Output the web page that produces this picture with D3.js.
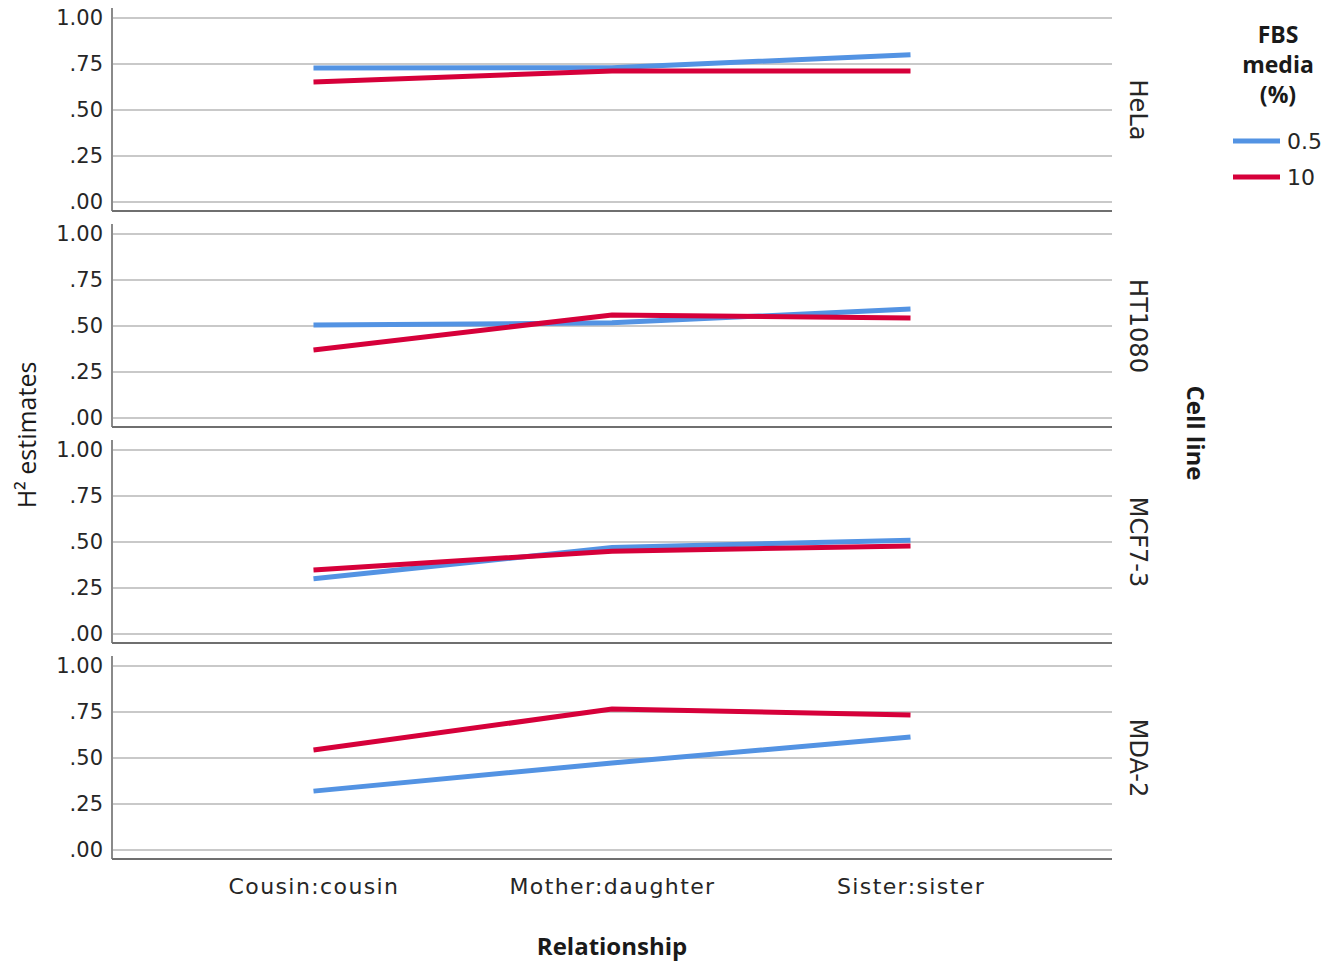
<!DOCTYPE html>
<html>
<head>
<meta charset="utf-8">
<script src="https://cdn.jsdelivr.net/npm/d3@7"></script>
<style>
  html, body { margin: 0; padding: 0; background: #fff; }
  svg { display: block; }
</style>
</head>
<body>
<svg id="chart" width="1329" height="963"></svg>
<script>
// Relationship categories on the x axis
const relationships = ["Cousin:cousin", "Mother:daughter", "Sister:sister"];
// Cell line panels, top to bottom
const cellLines = ["HeLa", "HT1080", "MCF7-3", "MDA-2"];
// FBS media levels (%)
const fbsLevels = ["0.5", "10"];
const yTicks = [0, 0.25, 0.5, 0.75, 1.0];

// H² estimates per cell line, one array per FBS level (order follows relationships)
const helaLow = [0.728, 0.730, 0.800];
const helaHigh = [0.652, 0.712, 0.712];
const ht1080Low = [0.505, 0.517, 0.592];
const ht1080High = [0.370, 0.560, 0.543];
const mcf7Low = [0.300, 0.470, 0.510];
const mcf7High = [0.348, 0.450, 0.478];
const mdaLow = [0.320, 0.473, 0.614];
const mdaHigh = [0.543, 0.766, 0.734];

const panels = [
  { name: cellLines[0], series: [helaLow, helaHigh] },
  { name: cellLines[1], series: [ht1080Low, ht1080High] },
  { name: cellLines[2], series: [mcf7Low, mcf7High] },
  { name: cellLines[3], series: [mdaLow, mdaHigh] }
];

const colors = d3.scaleOrdinal().domain(fbsLevels).range(["#5393E3", "#D6003A"]);

const svg = d3.select("#chart");
const left = 112, right = 1112;
const firstTop = 18, panelStep = 216, plotH = 184, axisGap = 9;
const tickFont = "'DejaVu Sans', Verdana, sans-serif";
const boldFont = "'Open Sans', 'DejaVu Sans', sans-serif";

const x = d3.scalePoint().domain(relationships).range([left, right]).padding(0.675);

panels.forEach((p, i) => {
  const top = firstTop + i * panelStep;
  const y = d3.scaleLinear().domain([0, 1]).range([top + plotH, top]);
  const g = svg.append("g");

  // horizontal grid lines
  g.selectAll("line.grid").data(yTicks).join("line")
    .attr("class", "grid")
    .attr("x1", left).attr("x2", right)
    .attr("y1", d => y(d)).attr("y2", d => y(d))
    .attr("stroke", "#c9c9c9").attr("stroke-width", 2);

  // y axis labels
  const yAxis = d3.axisLeft(y).tickValues(yTicks).tickSize(0).tickPadding(9)
    .tickFormat(d => d === 1 ? "1.00" : d3.format(".2f")(d).replace(/^0/, ""));
  const ag = g.append("g").attr("transform", `translate(${left},0)`).call(yAxis);
  ag.select(".domain").remove();
  ag.selectAll("text")
    .attr("font-family", tickFont).attr("font-size", 21).attr("fill", "#262626");

  // axis frame: left and bottom lines
  g.append("line")
    .attr("x1", left).attr("x2", left)
    .attr("y1", top - 10).attr("y2", top + plotH + axisGap)
    .attr("stroke", "#8a8a8a").attr("stroke-width", 2);
  g.append("line")
    .attr("x1", left).attr("x2", right)
    .attr("y1", top + plotH + axisGap).attr("y2", top + plotH + axisGap)
    .attr("stroke", "#6f6f6f").attr("stroke-width", 2);

  // series lines
  const line = d3.line().x((d, j) => x(relationships[j])).y(d => y(d));
  g.selectAll("path.series").data(p.series).join("path")
    .attr("class", "series")
    .attr("d", line)
    .attr("fill", "none")
    .attr("stroke", (d, k) => colors(fbsLevels[k]))
    .attr("stroke-width", 5);

  // panel label on the right
  const cy = top + plotH / 2;
  g.append("text")
    .attr("transform", `translate(1130,${cy}) rotate(90)`)
    .attr("text-anchor", "middle")
    .attr("font-family", tickFont).attr("font-size", 24).attr("fill", "#262626")
    .text(p.name);
});

// x axis category labels
const xAxisY = firstTop + 3 * panelStep + plotH + axisGap;
const xg = svg.append("g").attr("transform", `translate(0,${xAxisY})`)
  .call(d3.axisBottom(x).tickSize(0).tickPadding(19));
xg.select(".domain").remove();
xg.selectAll("text")
  .attr("font-family", tickFont).attr("font-size", 22).attr("fill", "#262626")
  .attr("letter-spacing", "1.4px");

// axis titles
svg.append("text")
  .attr("x", (left + right) / 2).attr("y", 955)
  .attr("text-anchor", "middle")
  .attr("font-family", boldFont).attr("font-weight", "bold").attr("font-size", 24)
  .attr("fill", "#1a1a1a")
  .text("Relationship");

svg.append("text")
  .attr("transform", "translate(36,435) rotate(-90)")
  .attr("text-anchor", "middle")
  .attr("font-family", boldFont).attr("font-size", 25).attr("fill", "#1a1a1a")
  .text("H² estimates");

svg.append("text")
  .attr("transform", "translate(1187,433) rotate(90)")
  .attr("text-anchor", "middle")
  .attr("font-family", boldFont).attr("font-weight", "bold").attr("font-size", 24)
  .attr("fill", "#1a1a1a")
  .text("Cell line");

// legend
const legend = svg.append("g");
legend.selectAll("text.title").data(["FBS", "media", "(%)"]).join("text")
  .attr("class", "title")
  .attr("x", 1278).attr("y", (d, i) => 43 + i * 30)
  .attr("text-anchor", "middle")
  .attr("font-family", boldFont).attr("font-weight", "bold").attr("font-size", 23)
  .attr("fill", "#1a1a1a")
  .text(d => d);

const items = legend.selectAll("g.item").data(fbsLevels).join("g")
  .attr("class", "item")
  .attr("transform", (d, i) => `translate(0,${141 + i * 36})`);
items.append("line")
  .attr("x1", 1233).attr("x2", 1280).attr("y1", 0).attr("y2", 0)
  .attr("stroke", d => colors(d)).attr("stroke-width", 5);
items.append("text")
  .attr("x", 1287).attr("y", 8)
  .attr("font-family", tickFont).attr("font-size", 22).attr("fill", "#262626")
  .text(d => d);
</script>
</body>
</html>
